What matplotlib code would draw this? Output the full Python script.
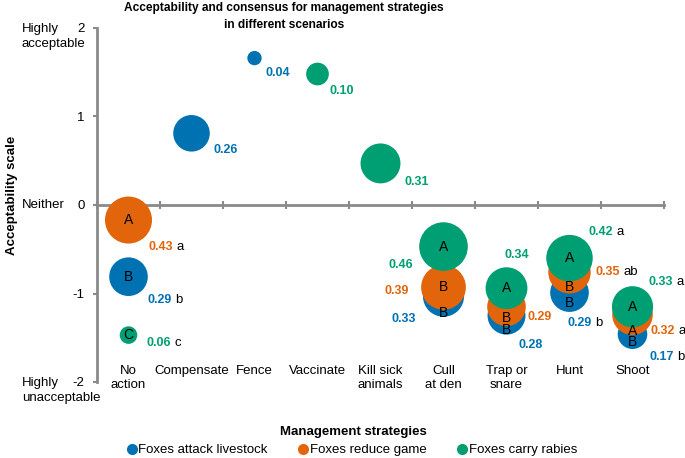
import matplotlib
matplotlib.use("Agg")
import matplotlib.pyplot as plt
from matplotlib.lines import Line2D
from matplotlib import font_manager

# --- данные ---
strategies = ["No\naction", "Compensate", "Fence", "Vaccinate", "Kill sick\nanimals",
              "Cull\nat den", "Trap or\nsnare", "Hunt", "Shoot"]
scenarios = ["Foxes attack livestock", "Foxes reduce game", "Foxes carry rabies"]

# средняя приемлемость (None = сценарий не оценивался)
livestock_mean = [-0.81, 0.81, 1.66, None, None, -1.03, -1.25, -0.99, -1.46]
game_mean = [-0.17, None, None, None, None, -0.93, -1.15, -0.76, -1.24]
rabies_mean = [-1.47, None, None, 1.48, 0.47, -0.47, -0.94, -0.60, -1.15]

# консенсус (размер пузыря)
livestock_cons = [0.29, 0.26, 0.04, None, None, 0.33, 0.28, 0.29, 0.17]
game_cons = [0.43, None, None, None, None, 0.39, 0.29, 0.35, 0.32]
rabies_cons = [0.06, None, None, 0.10, 0.31, 0.46, 0.34, 0.42, 0.33]

# буквы групп внутри пузырей
livestock_grp = ["B", "", "", "", "", "B", "B", "B", "B"]
game_grp = ["A", "", "", "", "", "B", "B", "B", "A"]
rabies_grp = ["C", "", "", "", "", "A", "A", "A", "A"]

# буквы значимости после числа
livestock_sig = ["b", "", "", "", "", "", "", "b", "b"]
game_sig = ["a", "", "", "", "", "", "", "ab", "a"]
rabies_sig = ["c", "", "", "", "", "", "", "a", "a"]

y_ticks = [-2, -1, 0, 1, 2]
y_words = {2: "Highly\nacceptable", 0: "Neither", -2: "Highly\nunacceptable"}

colors = ["#0072B2", "#E3650B", "#009E73"]

# смещения подписей консенсуса (пиксели: вправо, вниз от центра пузыря)
label_offsets = [
    [(19, 23), (22, 17), (11, 15), None, None, (-52, 23), (12, 29), (-2, 30), (17, 23)],
    [(20, 27), None, None, None, None, (-59, 4), (21, 10), (26, 0), (18, 16)],
    [(18, 8), None, None, (12, 17), (24, 19), (-55, 18), (-2, -33), (19, -26), (16, -25)],
]

available = {f.name for f in font_manager.fontManager.ttflist}
base_font = "Liberation Sans" if "Liberation Sans" in available else "DejaVu Sans"
plt.rcParams["font.family"] = [base_font, "DejaVu Sans"]
plt.rcParams["font.size"] = 9.5

W, H = 685, 458
fig = plt.figure(figsize=(W / 100, H / 100), dpi=100)
ax = fig.add_axes([97 / W, 1 - 382 / H, 567 / W, 354 / H])
ax.set_xlim(0, 9)
ax.set_ylim(-2, 2)

px_per_unit = 354 / 4
size_k = 35.85  # радиус в пикселях при консенсусе 1 (площадь ~ консенсус)

means = [livestock_mean, game_mean, rabies_mean]
cons = [livestock_cons, game_cons, rabies_cons]
grps = [livestock_grp, game_grp, rabies_grp]
sigs = [livestock_sig, game_sig, rabies_sig]


def radius(k, i):
    """Радиус пузыря в единицах оси y."""
    return size_k * cons[k][i] ** 0.5 / px_per_unit


for k in range(3):
    xs, ys, ss = [], [], []
    for i in range(len(strategies)):
        if means[k][i] is None:
            continue
        xs.append(i + 0.5)
        ys.append(means[k][i])
        d_pt = 2 * size_k * cons[k][i] ** 0.5 * 0.72
        ss.append(d_pt ** 2)
    ax.scatter(xs, ys, s=ss, color=colors[k], edgecolors="none", zorder=2 + k)

# буквы групп и подписи консенсуса
for i in range(len(strategies)):
    for k in range(3):
        m = means[k][i]
        if m is None:
            continue
        if grps[k][i]:
            bottom = m - radius(k, i)
            # пузыри, нарисованные поверх и закрывающие центр
            covers = [means[j][i] - radius(j, i) for j in range(k + 1, 3)
                      if means[j][i] is not None
                      and means[j][i] - radius(j, i) < m < means[j][i] + radius(j, i)]
            ly = (bottom + min(covers)) / 2 if covers else m
            ax.text(i + 0.5, ly, grps[k][i], ha="center", va="center",
                    fontsize=10, color="black", zorder=10)
        dx, dy = label_offsets[k][i]
        t = ax.annotate(f"{cons[k][i]:.2f}", xy=(i + 0.5, m),
                        xytext=(dx * 0.72, -dy * 0.72), textcoords="offset points",
                        ha="left", va="center", color=colors[k],
                        fontweight="bold", fontsize=9, zorder=10)
        if sigs[k][i]:
            ax.annotate(sigs[k][i], xy=(1, 0.5), xycoords=t,
                        xytext=(2.5, 0), textcoords="offset points",
                        ha="left", va="center", color="black", fontsize=9.5)

# оси
grey = "#8a8a8a"
for side in ["top", "right"]:
    ax.spines[side].set_visible(False)
ax.spines["bottom"].set_position(("data", 0))
ax.spines["left"].set_bounds(-2, 2)
for side in ["bottom", "left"]:
    ax.spines[side].set_color(grey)
    ax.spines[side].set_linewidth(2)
ax.set_xticks(range(10))
ax.set_xticklabels([])
ax.tick_params(axis="x", direction="inout", length=6, width=1.5, color=grey)
ax.set_yticks(y_ticks)
ax.set_yticklabels([str(v) for v in y_ticks])
ax.tick_params(axis="y", direction="out", length=3, width=1.5, color=grey, pad=6)

for i, name in enumerate(strategies):
    ax.text(i + 0.5, -1.81, name, ha="center", va="top", fontsize=9.5)

# словесные подписи шкалы слева
for v, word in y_words.items():
    yy = ax.transData.transform((0, v))[1] / H
    if word.startswith("Highly"):
        fig.text(22 / W, yy + 5 / H, word, ha="left", va="top", fontsize=9.5,
                 linespacing=1.35)
    else:
        fig.text(22 / W, yy, word, ha="left", va="center", fontsize=9.5)

fig.text(12 / W, 1 - 195 / H, "Acceptability scale", rotation=90, ha="center",
         va="center", fontweight="bold", fontsize=9.5)
fig.text(284 / W, 1 - 2 / H, "Acceptability and consensus for management strategies\n"
         "in different scenarios", ha="center", va="top", fontweight="bold",
         fontsize=8.6, linespacing=1.55)
fig.text(353 / W, 1 - 432 / H, "Management strategies", ha="center", va="center",
         fontweight="bold", fontsize=9.5)

handles = [Line2D([], [], marker="o", linestyle="none", markersize=8,
                  markerfacecolor=c, markeredgecolor="none") for c in colors]
fig.legend(handles, scenarios, loc="center", bbox_to_anchor=(351 / W, 1 - 450 / H),
           ncol=3, frameon=False, handletextpad=0.0, columnspacing=2.2,
           handlelength=1.0, fontsize=9.5, borderpad=0)

fig.savefig("out.png", dpi=100, facecolor="white")
